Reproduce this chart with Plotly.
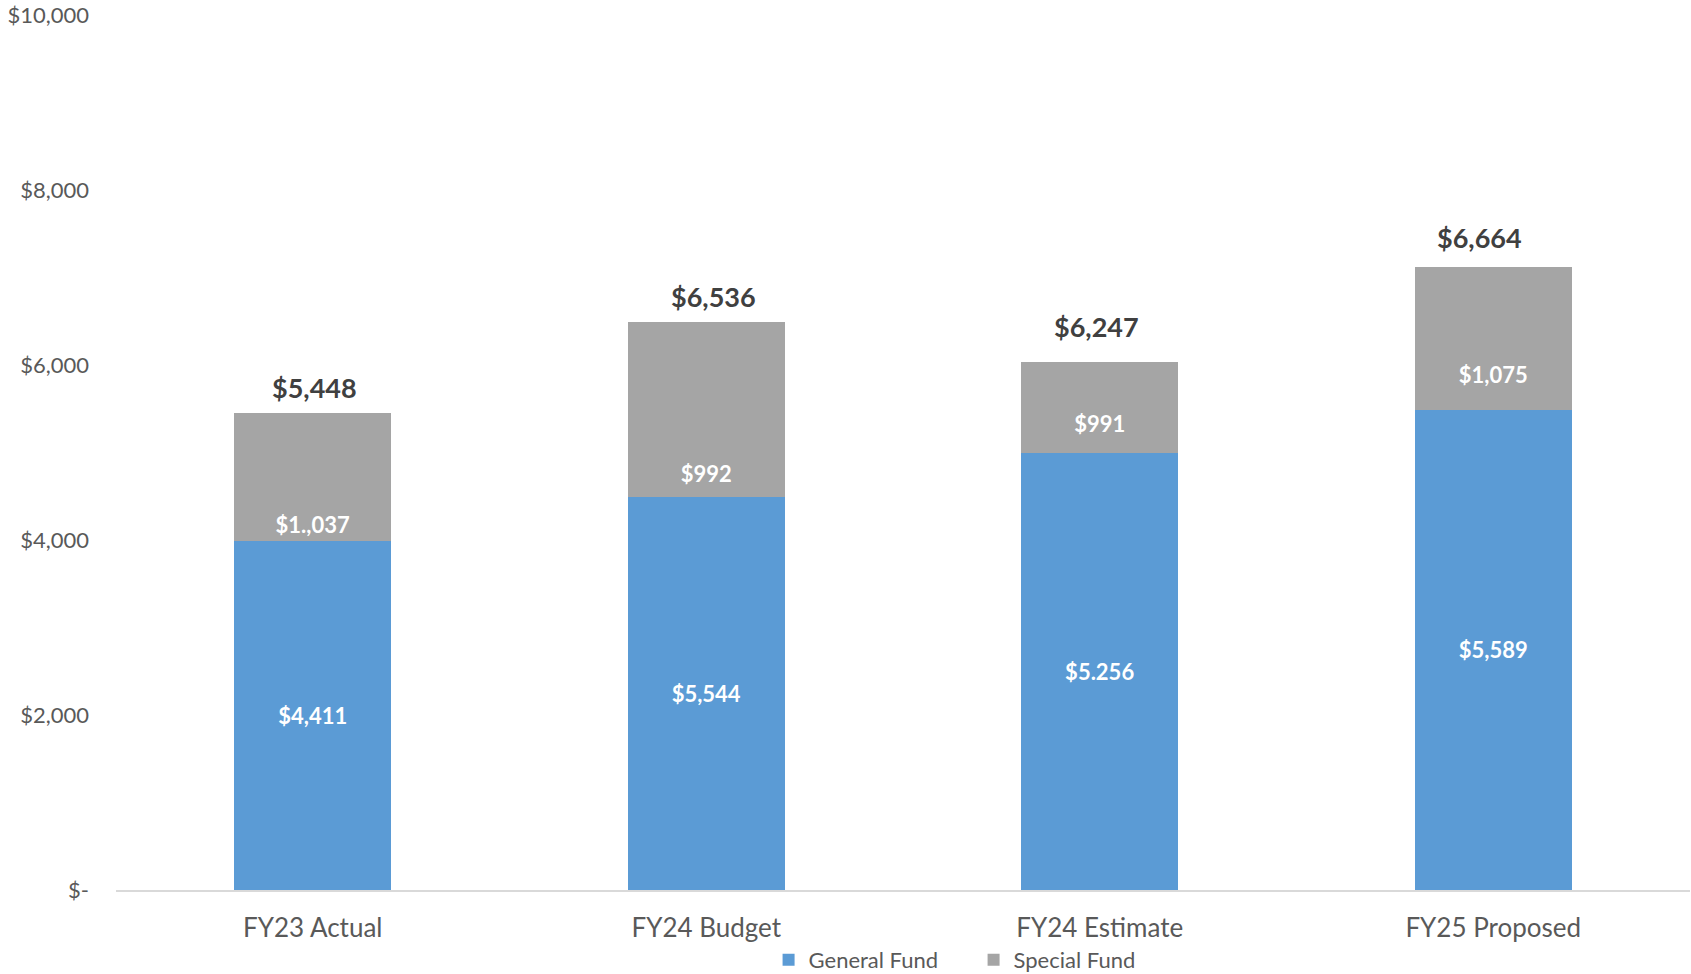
import plotly.graph_objects as go

categories = ["FY23 Actual", "FY24 Budget", "FY24 Estimate", "FY25 Proposed"]
# visible segment heights
general_fund = [3990, 4490, 4990, 5490]
special_fund = [365, 548, 687, 813]
special_fund_upper = [1100, 1453, 357, 817]
# printed labels
general_labels = ["$4,411", "$5,544", "$5.256", "$5,589"]
special_labels = ["$1.,037", "$992", "$991", "$1,075"]
total_labels = ["$5,448", "$6,536", "$6,247", "$6,664"]

y_ticks = [0, 2000, 4000, 6000, 8000, 10000]
y_tick_labels = ["$-", "$2,000", "$4,000", "$6,000", "$8,000", "$10,000"]

# label placement tweaks (pixels), styling only
label_dx = [2, 7, -3, -14]
label_dy = [25, 26, 36, 30]

BLUE = "#5B9BD5"
GRAY = "#A5A5A5"
FONT = "Lato, 'Open Sans', sans-serif"

fig = go.Figure()
fig.add_trace(go.Bar(
    name="General Fund", x=categories, y=general_fund, marker_color=BLUE,
    marker_line_width=0, text=general_labels, textposition="inside",
    insidetextanchor="middle", textangle=0, constraintext="none",
    textfont=dict(family=FONT, size=22, color="white", weight="bold"),
    hoverinfo="skip",
))
fig.add_trace(go.Bar(
    name="Special Fund", x=categories, y=special_fund, marker_color=GRAY,
    marker_line_width=0, text=special_labels, textposition="inside",
    insidetextanchor="middle", textangle=0, constraintext="none",
    textfont=dict(family=FONT, size=22, color="white", weight="bold"),
    hoverinfo="skip",
))
fig.add_trace(go.Bar(
    name="Special Fund ", x=categories, y=special_fund_upper, marker_color=GRAY,
    marker_line_width=0, showlegend=False, hoverinfo="skip",
))

totals = [g + s + u for g, s, u in zip(general_fund, special_fund, special_fund_upper)]
for cat, tot, lab, dx, dy in zip(categories, totals, total_labels, label_dx, label_dy):
    fig.add_annotation(x=cat, y=tot, text=lab, showarrow=False, yanchor="middle",
                       xshift=dx, yshift=dy,
                       font=dict(family=FONT, size=27, color="#404040", weight="bold"))

fig.update_layout(
    barmode="stack", bargap=0.6,
    width=1691, height=974,
    margin=dict(l=116, r=1, t=15, b=84, autoexpand=False),
    plot_bgcolor="white", paper_bgcolor="white",
    font=dict(family=FONT, color="#595959"),
    legend=dict(orientation="h", x=0.4146, xanchor="left", y=-0.08, yanchor="middle",
                font=dict(family=FONT, size=22, color="#595959"), traceorder="normal",
                itemwidth=30, entrywidth=160),
    xaxis=dict(showline=True, linecolor="#D9D9D9", linewidth=1.5, ticks="",
               tickfont=dict(family=FONT, size=26, color="#595959"), ticklabelstandoff=14,
               showgrid=False),
    yaxis=dict(range=[0, 10000], tickvals=y_ticks, ticktext=y_tick_labels, showgrid=False,
               zeroline=False, showline=False, ticks="", ticklabelstandoff=26,
               tickfont=dict(family=FONT, size=22, color="#595959")),
)

fig.write_html("out.html")
